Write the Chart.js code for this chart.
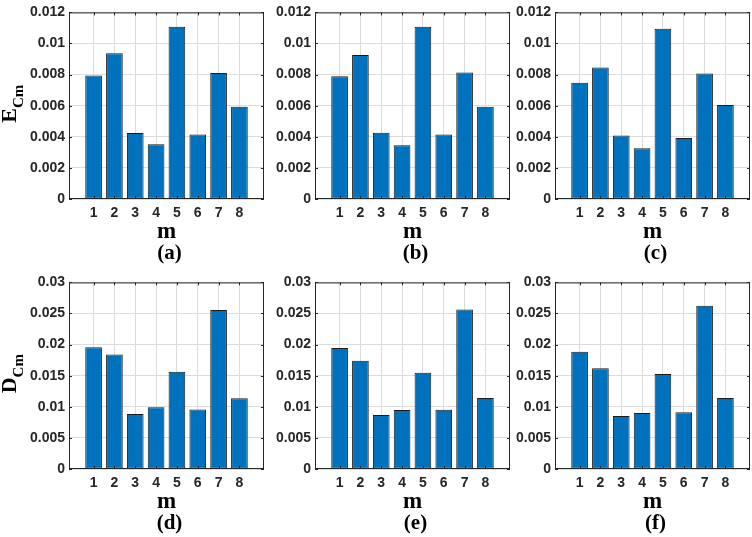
<!DOCTYPE html>
<html>
<head>
<meta charset="utf-8">
<script src="https://cdn.jsdelivr.net/npm/chart.js@4.4.1/dist/chart.umd.min.js"></script>
<style>
    html, body { margin: 0; padding: 0; background: #fff; overflow: hidden; }
    #wrap { position: relative; width: 752px; height: 537px; overflow: hidden; }
    #wrap canvas { position: absolute; }
</style>
</head>
<body>
<div id="wrap"></div>
<script>
"use strict";

// m = 1..8
const m_values = [1, 2, 3, 4, 5, 6, 7, 8];

// E_Cm, panels (a) (b) (c)
const e_cm_a = [0.00794, 0.00938, 0.00424, 0.00352, 0.01107, 0.00414, 0.00811, 0.00593];
const e_cm_b = [0.00790, 0.00926, 0.00426, 0.00346, 0.01107, 0.00414, 0.00813, 0.00593];
const e_cm_c = [0.00747, 0.00846, 0.00409, 0.00327, 0.01095, 0.00393, 0.00807, 0.00605];

// D_Cm, panels (d) (e) (f)
const d_cm_d = [0.01956, 0.01842, 0.00885, 0.00993, 0.01565, 0.00957, 0.02558, 0.01137];
const d_cm_e = [0.01945, 0.01740, 0.00870, 0.00947, 0.01549, 0.00952, 0.02563, 0.01143];
const d_cm_f = [0.01884, 0.01621, 0.00854, 0.00901, 0.01529, 0.00911, 0.02625, 0.01143];

const e_ticks = [0, 0.002, 0.004, 0.006, 0.008, 0.01, 0.012];
const d_ticks = [0, 0.005, 0.01, 0.015, 0.02, 0.025, 0.03];

const AXIS = '#262626';
const GRID = '#dcdcdc';
const BAR = 'rgb(0,114,189)';
const SANS = "'Liberation Sans', Arial, Helvetica, sans-serif";
const SERIF = "'Liberation Serif', 'Times New Roman', serif";

const panels = [
    { tag: '(a)', values: e_cm_a, ticks: e_ticks, ylabel: 'E', left: 0,   top: 0 },
    { tag: '(b)', values: e_cm_b, ticks: e_ticks, ylabel: null, left: 246, top: 0 },
    { tag: '(c)', values: e_cm_c, ticks: e_ticks, ylabel: null, left: 486, top: 0 },
    { tag: '(d)', values: d_cm_d, ticks: d_ticks, ylabel: 'D', left: 0,   top: 270 },
    { tag: '(e)', values: d_cm_e, ticks: d_ticks, ylabel: null, left: 246, top: 270 },
    { tag: '(f)', values: d_cm_f, ticks: d_ticks, ylabel: null, left: 486, top: 270 }
];

// box, inward ticks and the serif labels (MATLAB look)
const panel_decor = {
    id: 'panel_decor',
    afterDraw(chart, args, opts) {
        const ctx = chart.ctx, a = chart.chartArea;
        const xs = chart.scales.x, ys = chart.scales.y;
        ctx.save();
        ctx.strokeStyle = AXIS;
        ctx.lineWidth = 1;
        ctx.strokeRect(a.left + 0.5, a.top + 0.5, a.right - a.left - 1, a.bottom - a.top - 1);

        ctx.beginPath();
        xs.ticks.forEach(t => {
            const px = Math.round(xs.getPixelForValue(t.value)) + 0.5;
            ctx.moveTo(px, a.bottom); ctx.lineTo(px, a.bottom - 3);
            ctx.moveTo(px, a.top); ctx.lineTo(px, a.top + 3);
        });
        ys.ticks.forEach(t => {
            const py = Math.round(ys.getPixelForValue(t.value)) + 0.5;
            ctx.moveTo(a.left, py); ctx.lineTo(a.left + 3, py);
            ctx.moveTo(a.right, py); ctx.lineTo(a.right - 3, py);
        });
        ctx.stroke();

        const cx = (a.left + a.right) / 2;
        ctx.fillStyle = '#000';
        ctx.textAlign = 'center';
        ctx.textBaseline = 'alphabetic';
        ctx.font = 'bold 23px ' + SERIF;
        ctx.fillText('m', cx, a.bottom + 39);
        ctx.font = 'bold 21px ' + SERIF;
        ctx.fillText(opts.tag, cx + 3, a.bottom + 60);

        if (opts.ylabel) {
            ctx.font = 'bold 22px ' + SERIF;
            const w1 = ctx.measureText(opts.ylabel).width;
            ctx.font = 'bold 15px ' + SERIF;
            const w2 = ctx.measureText('Cm').width;
            const cy = (a.top + a.bottom) / 2 - 2;
            ctx.translate(16, cy + (w1 + w2) / 2);
            ctx.rotate(-Math.PI / 2);
            ctx.textAlign = 'left';
            ctx.font = 'bold 22px ' + SERIF;
            ctx.fillText(opts.ylabel, 0, 0);
            ctx.font = 'bold 15px ' + SERIF;
            ctx.fillText('Cm', w1, 7);
        }
        ctx.restore();
    }
};

const wrap = document.getElementById('wrap');

panels.forEach(p => {
    const canvas = document.createElement('canvas');
    canvas.width = 266;
    canvas.height = 270;
    canvas.style.left = p.left + 'px';
    canvas.style.top = p.top + 'px';
    canvas.style.width = '266px';
    canvas.style.height = '270px';
    wrap.appendChild(canvas);

    const tick_font = { family: SANS, size: 14, weight: 'bold' };

    new Chart(canvas, {
        type: 'bar',
        data: {
            datasets: [{
                data: m_values.map((m, i) => ({ x: m, y: p.values[i] })),
                backgroundColor: BAR,
                borderColor: '#1a1a1a',
                borderWidth: 1,
                borderSkipped: false,
                barPercentage: 0.8,
                categoryPercentage: 1.0
            }]
        },
        options: {
            responsive: false,
            animation: false,
            devicePixelRatio: 1,
            layout: { padding: { top: 5, right: 2, left: 0, bottom: 0 } },
            plugins: {
                legend: { display: false },
                tooltip: { enabled: false },
                panel_decor: { tag: p.tag, ylabel: p.ylabel }
            },
            scales: {
                x: {
                    type: 'linear',
                    min: -0.18,
                    max: 9.18,
                    offset: false,
                    afterBuildTicks: s => { s.ticks = m_values.map(v => ({ value: v })); },
                    afterFit: s => { s.height = 71; },
                    grid: { color: GRID, drawTicks: false, offset: false },
                    border: { display: false },
                    ticks: { padding: 6, font: tick_font, color: AXIS, maxRotation: 0, autoSkip: false }
                },
                y: {
                    min: 0,
                    max: p.ticks[p.ticks.length - 1],
                    afterBuildTicks: s => { s.ticks = p.ticks.map(v => ({ value: v })); },
                    afterFit: s => { s.width = 69; },
                    grid: { color: GRID, drawTicks: false },
                    border: { display: false },
                    ticks: {
                        padding: 4,
                        font: tick_font,
                        color: AXIS,
                        callback: v => String(+Number(v).toFixed(6))
                    }
                }
            }
        },
        plugins: [panel_decor]
    });
});
</script>
</body>
</html>
